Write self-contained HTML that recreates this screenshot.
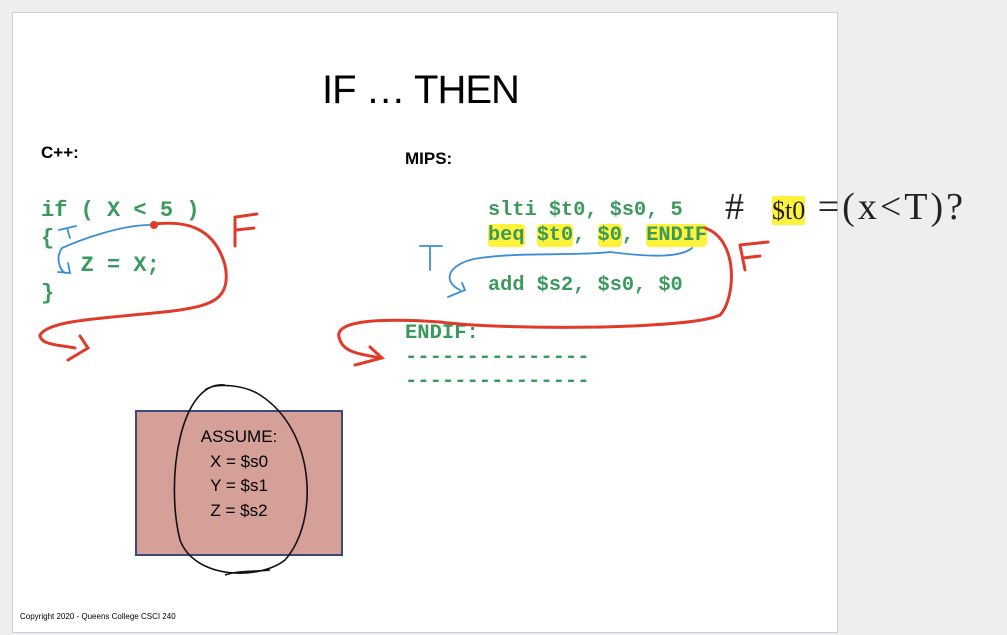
<!DOCTYPE html>
<html><head><meta charset="utf-8"><style>
body{margin:0;width:1007px;height:635px;background:#eeeef1;position:relative;overflow:hidden;font-family:"Liberation Sans",sans-serif}
.slide{position:absolute;left:12px;top:12px;width:824px;height:619px;background:#fff;border:1px solid #d0d0d0}
.t{position:absolute;white-space:pre}
.code{font-family:"Liberation Mono",monospace;font-weight:bold;color:#3a9a5c}
.hl{background:#fff23a;border-radius:4px}
</style></head><body>
<div class="slide"></div>
<div class="t" style="left:322px;top:68px;font-size:40px;letter-spacing:-1px">IF … THEN</div>
<div class="t" style="left:41px;top:143px;font-size:17px;font-weight:bold">C++:</div>
<div class="t" style="left:405px;top:149px;font-size:17px;font-weight:bold">MIPS:</div>
<div class="t code" style="left:41px;top:197px;font-size:22px;line-height:27.5px">if ( X &lt; 5 )
{
   Z = X;
}</div>
<div class="t code" style="left:488px;top:198px;font-size:20.3px;line-height:25px">slti $t0, $s0, 5
<span class="hl">beq</span> <span class="hl">$t0</span>, <span class="hl">$0</span>, <span class="hl">ENDIF</span>

add $s2, $s0, $0</div>
<div class="t code" style="left:405px;top:322px;font-size:20.5px;line-height:24px">ENDIF:
---------------
---------------</div>
<div style="position:absolute;left:135px;top:410px;width:204px;height:142px;background:#d4a097;border:2px solid #3b4a7a"></div>
<div class="t" style="left:135px;top:425px;width:208px;text-align:center;font-size:17px;line-height:24.5px">ASSUME:
X = $s0
Y = $s1
Z = $s2</div>
<div class="t" style="left:20px;top:612px;font-size:8px">Copyright 2020 - Queens College CSCI 240</div>
<div class="t" style="left:725px;top:185px;font-size:38px;letter-spacing:3px;font-family:'Liberation Serif',serif;color:#222">#  <span style="background:#fff23a;font-size:26px;letter-spacing:0">$t0</span> =(x&lt;T)?</div>
<svg width="1007" height="635" style="position:absolute;left:0;top:0">
<g fill="none" stroke="#e03a2a" stroke-width="3" stroke-linecap="round">
<path d="M154 224 C190 220 215 230 225 265 C232 300 210 305 180 310 C120 318 50 318 40 335 C40 345 60 345 75 348 M80 336 L88 348 L68 360"/>
<path d="M235 217 L235 246 M236 217 L257 214 M236 230 L254 228"/>
<path d="M705 228 C740 240 735 300 720 315 C690 330 500 330 440 322 C380 318 330 320 340 340 C345 355 370 355 380 358 M370 347 L382 358 L355 365"/>
<path d="M740 245 L745 270 M740 245 L768 242 M743 258 L760 256"/>
</g>
<g fill="none" stroke="#3a8ed8" stroke-width="1.8" stroke-linecap="round">
<path d="M150 225 C120 225 80 240 62 248 C55 258 60 270 65 273 M58 272 L70 273 L68 263"/>
<path d="M59 230 L76 226 M67 228 L70 238"/>
<path d="M610 252 C580 256 520 252 480 258 C450 262 440 280 460 290 M448 297 L465 290 L462 283"/>
<path d="M692 248 C680 258 650 257 610 252"/>
<path d="M420 246 L430 246 L442 246 M430 246 L430 270"/>
</g>
<circle cx="154" cy="225" r="4" fill="#e03a2a"/>
<path d="M225 385 C180 380 165 480 180 540 C195 580 260 580 285 560 C320 520 315 430 260 395 C245 385 215 382 205 390" fill="none" stroke="#111" stroke-width="1.6"/>
<path d="M225 575 C240 570 255 572 270 570" fill="none" stroke="#111" stroke-width="1.6"/>
</svg>
</body></html>
